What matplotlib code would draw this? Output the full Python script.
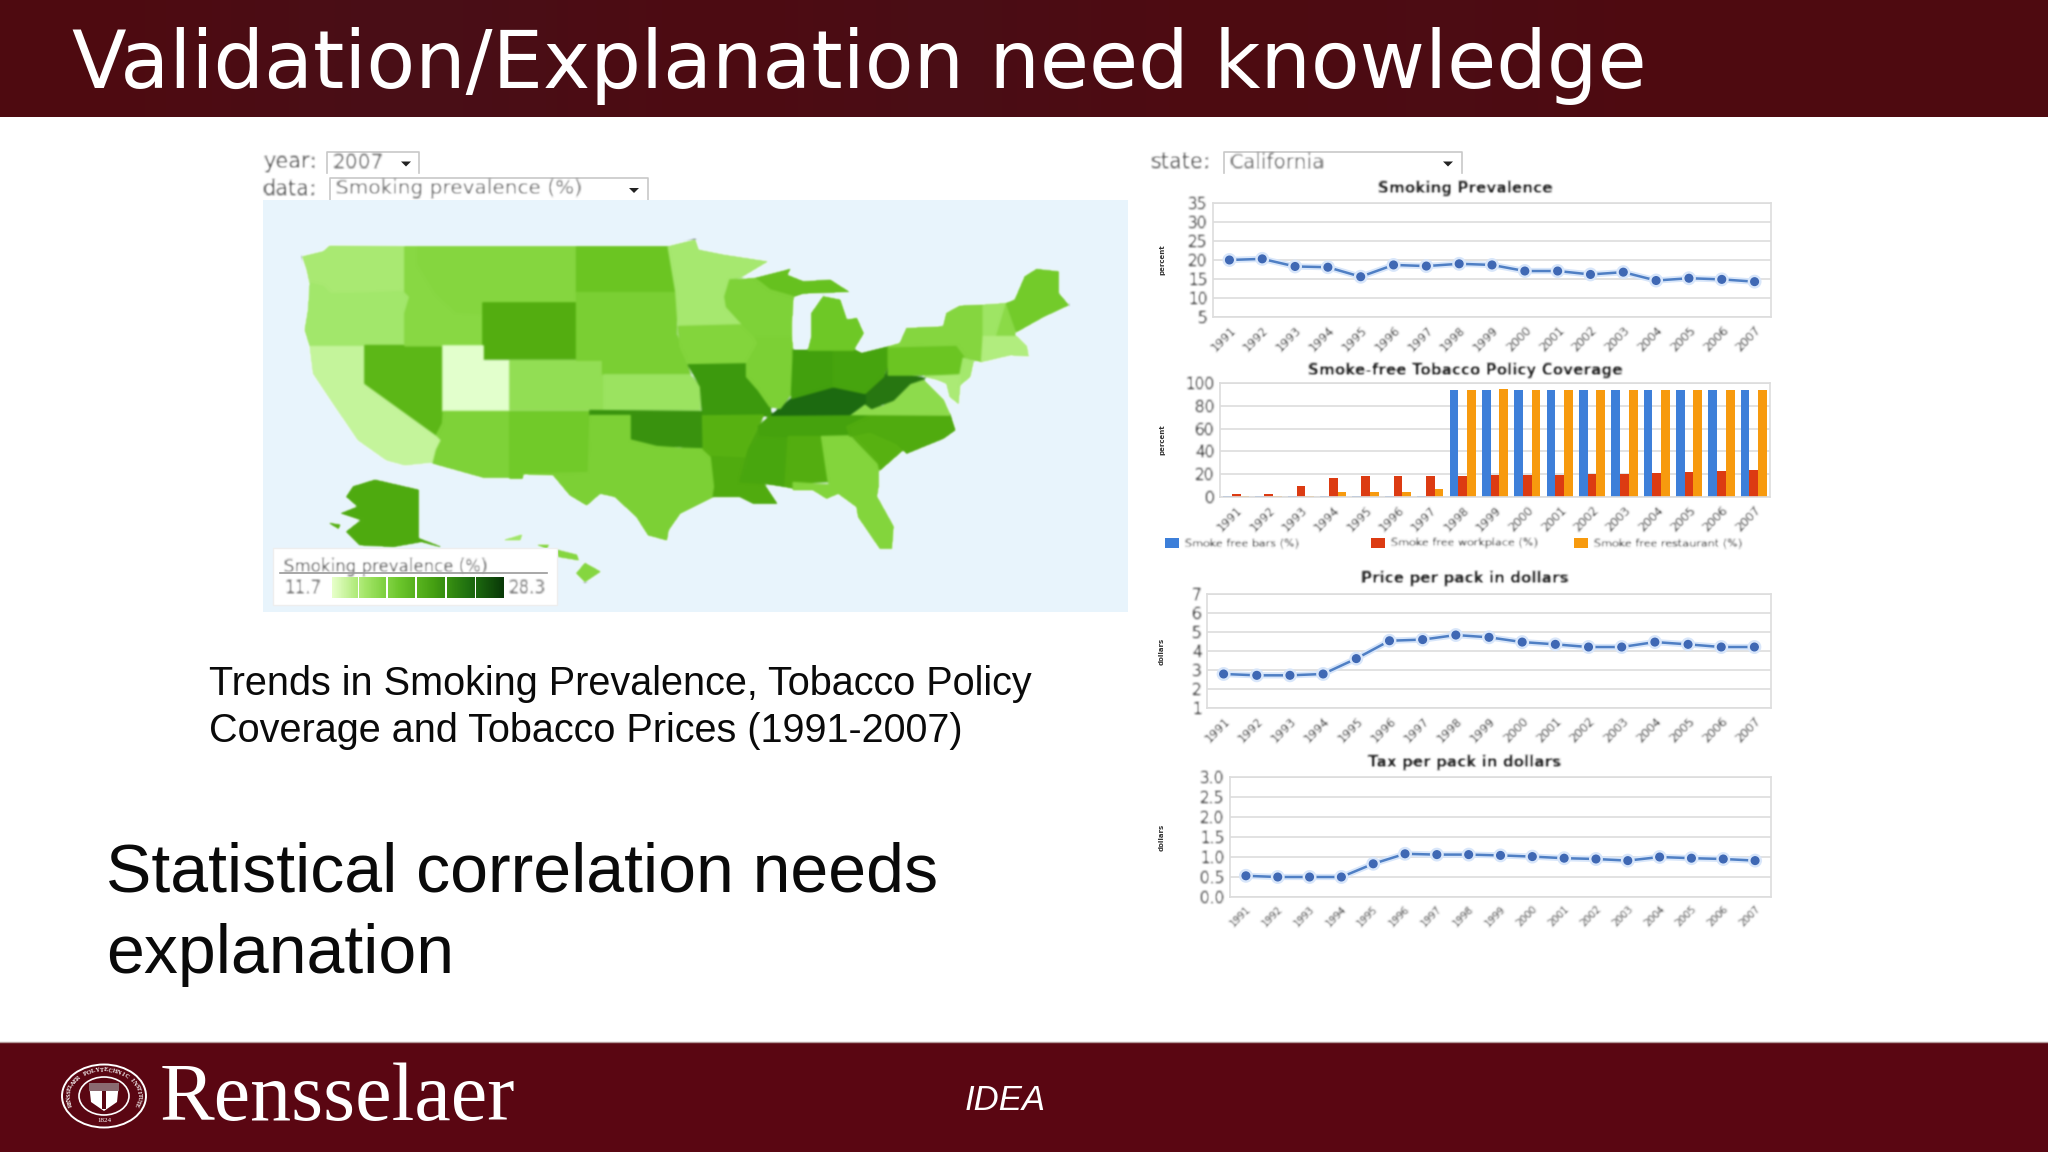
import numpy as np
import matplotlib
matplotlib.use("Agg")
import matplotlib.pyplot as plt
import matplotlib.patheffects as pe
from matplotlib.colors import LinearSegmentedColormap, Normalize
from matplotlib.collections import PatchCollection
from matplotlib.patches import Rectangle, Polygon, Ellipse

W, H = 2048, 1152

# --- chart data ---
years = ["1991", "1992", "1993", "1994", "1995", "1996", "1997", "1998", "1999",
         "2000", "2001", "2002", "2003", "2004", "2005", "2006", "2007"]
prevalence = [20.0, 20.3, 18.3, 18.1, 15.6, 18.7, 18.4, 19.0, 18.7,
              17.1, 17.1, 16.2, 16.8, 14.6, 15.2, 14.9, 14.3]
bars_pct = [0.5, 0.5, 0.5, 0.5, 0.5, 0.5, 0.5, 94, 94, 94, 94, 94, 94, 94, 94, 94, 94]
workplace_pct = [3, 3, 10, 17, 18, 18, 18, 18, 19, 19, 19, 20, 20, 21, 22, 23, 24]
restaurant_pct = [0.5, 1, 1, 4, 4, 4, 7, 94, 95, 94, 94, 94, 94, 94, 94, 94, 94]
price = [2.79, 2.72, 2.72, 2.79, 3.6, 4.54, 4.6, 4.84, 4.72,
         4.47, 4.35, 4.21, 4.21, 4.47, 4.35, 4.21, 4.21]
tax = [0.53, 0.50, 0.50, 0.50, 0.83, 1.08, 1.06, 1.06, 1.04,
       1.01, 0.97, 0.95, 0.91, 1.00, 0.97, 0.95, 0.91]

# state prevalence (estimated from shade) and outlines traced in map units
state_values = {
    "WA": 15.2, "OR": 15.8, "CA": 13.2, "NV": 21.4, "ID": 17.8, "MT": 18.0, "WY": 22.2,
    "UT": 11.7, "CO": 17.0, "AZ": 18.6, "NM": 19.8, "ND": 20.2, "SD": 19.0, "NE": 19.0,
    "KS": 16.4, "OK": 24.6, "TX": 18.8, "MN": 15.4, "IA": 18.2, "MO": 24.2, "AR": 21.8,
    "LA": 22.4, "WI": 18.6, "IL": 18.8, "MI": 20.0, "MIU": 20.6, "IN": 23.6, "OH": 23.2,
    "KY": 28.3, "WV": 27.0, "TN": 23.4, "MS": 23.0, "AL": 22.2, "GA": 18.2, "FL": 18.2,
    "SC": 21.8, "NC": 22.4, "VA": 17.4, "MD": 15.0, "PA": 20.2, "NY": 18.0, "NJ": 15.6,
    "CT": 14.2, "VT": 16.2, "NH": 17.6, "ME": 19.6, "AK": 22.6,
    "HI1": 18.0, "HI2": 18.0, "HI3": 18.0, "HI4": 16.0, "AK2": 22.0,
}
state_outlines = {
    "WA": [(38, 80), (100, 65), (120, 48), (345, 50), (345, 185), (230, 190), (120, 192), (100, 170), (60, 160), (50, 115)],
    "OR": [(60, 160), (100, 170), (120, 192), (230, 190), (345, 185), (360, 200), (345, 250), (345, 347), (60, 347), (45, 300), (55, 240)],
    "CA": [(60, 350), (225, 350), (225, 455), (455, 630), (440, 695), (345, 705), (290, 690), (205, 630), (130, 520), (70, 430)],
    "NV": [(225, 347), (458, 347), (458, 580), (440, 615), (225, 460)],
    "ID": [(345, 50), (385, 50), (385, 100), (440, 190), (500, 245), (578, 250), (578, 347), (345, 347), (345, 250), (360, 200), (345, 185)],
    "MT": [(385, 50), (860, 50), (860, 218), (578, 218), (578, 250), (500, 245), (440, 190), (385, 100)],
    "WY": [(578, 220), (860, 220), (860, 388), (578, 388)],
    "UT": [(460, 348), (578, 348), (578, 392), (660, 392), (660, 542), (460, 542)],
    "CO": [(660, 392), (938, 392), (942, 540), (660, 540)],
    "AZ": [(440, 615), (458, 580), (460, 545), (658, 545), (658, 742), (580, 742), (430, 700), (440, 660), (455, 630)],
    "NM": [(660, 545), (900, 545), (895, 728), (700, 730), (697, 745), (660, 745)],
    "ND": [(860, 50), (1135, 50), (1158, 186), (860, 186)],
    "SD": [(860, 188), (1158, 188), (1160, 310), (860, 300)],
    "NE": [(860, 300), (1155, 300), (1180, 370), (1200, 432), (938, 432), (938, 390), (860, 390)],
    "KS": [(942, 435), (1200, 435), (1230, 470), (1230, 540), (942, 540)],
    "OK": [(900, 542), (1238, 545), (1238, 660), (1170, 650), (1100, 650), (1020, 630), (1020, 557), (900, 557)],
    "TX": [(900, 557), (1020, 557), (1020, 630), (1100, 650), (1170, 655), (1240, 657), (1265, 680), (1275, 770), (1270, 800), (1170, 850),
           (1135, 900), (1130, 930), (1075, 915), (1040, 860), (975, 800), (930, 790), (890, 825), (840, 795), (790, 735), (700, 732), (895, 728)],
    "MN": [(1135, 50), (1215, 30), (1225, 60), (1300, 75), (1430, 95), (1355, 140), (1320, 150), (1305, 200), (1310, 230), (1360, 285), (1165, 290), (1158, 186)],
    "IA": [(1165, 290), (1360, 285), (1395, 320), (1405, 340), (1370, 402), (1195, 405), (1170, 350)],
    "MO": [(1195, 405), (1370, 402), (1370, 440), (1405, 480), (1440, 530), (1445, 558), (1238, 560), (1232, 470)],
    "AR": [(1238, 558), (1420, 556), (1375, 660), (1365, 690), (1265, 680), (1240, 657)],
    "LA": [(1265, 680), (1365, 685), (1350, 755), (1420, 760), (1460, 820), (1390, 820), (1350, 800), (1270, 800), (1275, 770)],
    "MS": [(1410, 590), (1495, 620), (1485, 770), (1420, 760), (1350, 755), (1375, 660)],
    "TN": [(1445, 553), (1745, 553), (1670, 590), (1680, 618), (1595, 620), (1495, 620), (1410, 615), (1405, 590)],
    "AL": [(1495, 620), (1595, 620), (1615, 755), (1515, 758), (1510, 775), (1485, 770)],
    "GA": [(1595, 620), (1680, 618), (1765, 700), (1765, 770), (1620, 765), (1615, 755)],
    "FL": [(1510, 758), (1620, 765), (1765, 770), (1760, 800), (1810, 890), (1805, 955), (1770, 955), (1705, 860), (1700, 830), (1645, 790), (1610, 805), (1570, 780), (1510, 780)],
    "SC": [(1680, 612), (1740, 605), (1850, 650), (1770, 720), (1765, 700)],
    "NC": [(1670, 590), (1745, 553), (1980, 553), (1995, 600), (1960, 625), (1850, 670), (1820, 640), (1740, 605), (1680, 618)],
    "VA": [(1680, 553), (1725, 520), (1780, 530), (1830, 470), (1900, 450), (1960, 510), (1980, 555)],
    "WV": [(1725, 490), (1790, 430), (1795, 400), (1797, 430), (1850, 435), (1905, 445), (1860, 460), (1810, 510), (1745, 535), (1725, 520)],
    "KY": [(1445, 555), (1505, 505), (1630, 470), (1725, 490), (1725, 520), (1680, 553)],
    "IL": [(1395, 320), (1505, 320), (1510, 380), (1505, 490), (1470, 535), (1440, 530), (1405, 480), (1370, 440), (1370, 402), (1405, 340)],
    "IN": [(1510, 360), (1630, 360), (1630, 470), (1505, 505), (1505, 490), (1510, 380)],
    "OH": [(1630, 360), (1695, 360), (1715, 370), (1795, 350), (1795, 400), (1780, 440), (1725, 490), (1630, 470)],
    "MI": [(1565, 250), (1600, 200), (1650, 210), (1670, 270), (1700, 265), (1720, 310), (1690, 360), (1555, 360), (1565, 320)],
    "MIU": [(1395, 145), (1500, 118), (1490, 135), (1540, 155), (1620, 150), (1675, 185), (1540, 190), (1510, 200), (1440, 180)],
    "WI": [(1305, 200), (1320, 150), (1395, 145), (1440, 180), (1510, 200), (1505, 280), (1505, 320), (1395, 320), (1360, 285), (1310, 230)],
    "PA": [(1795, 350), (2000, 345), (2030, 385), (2010, 435), (1795, 435)],
    "NY": [(1850, 295), (1960, 290), (1970, 250), (2010, 228), (2080, 225), (2080, 320), (2075, 395), (2030, 385), (2000, 345), (1795, 350), (1830, 340)],
    "VT": [(2080, 225), (2150, 220), (2120, 320), (2080, 320)],
    "NH": [(2150, 220), (2175, 290), (2175, 320), (2120, 320)],
    "ME": [(2150, 220), (2175, 210), (2205, 140), (2240, 118), (2305, 125), (2305, 190), (2335, 225), (2260, 260), (2180, 305), (2175, 290)],
    "CT": [(2080, 320), (2180, 320), (2210, 350), (2215, 378), (2160, 375), (2075, 395)],
    "NJ": [(2020, 385), (2050, 395), (2040, 440), (2010, 465), (2010, 435)],
    "MD": [(1905, 440), (2010, 435), (2010, 465), (2005, 520), (1980, 500), (1970, 460), (1940, 448)],
    "AK": [(170, 800), (190, 770), (255, 750), (385, 780), (385, 925), (450, 950), (395, 935), (310, 950), (210, 945), (170, 905), (215, 870), (155, 850), (205, 830)],
    "AK2": [(120, 880), (150, 885), (145, 895)],
    "HI1": [(860, 1030), (885, 1000), (930, 1025), (885, 1055)],
    "HI2": [(800, 960), (860, 975), (865, 990), (805, 980)],
    "HI3": [(745, 945), (775, 945), (770, 955)],
    "HI4": [(645, 930), (695, 915), (690, 930)],
}
legend_min = 11.7
legend_max = 28.3

shade_map = LinearSegmentedColormap.from_list("shade", [
    (0.0, "#e2ffcc"), (0.14, "#b4ee80"), (0.26, "#a0e668"), (0.38, "#85d63f"), (0.50, "#6ec826"),
    (0.62, "#55b010"), (0.74, "#3e9c0c"), (0.86, "#2f8012"), (1.0, "#1c6a10")])
legend_map = LinearSegmentedColormap.from_list("legend", ["#e6ffc8", "#a4e668", "#6cc62c", "#45a012", "#1f7010", "#0a3a08"])
norm = Normalize(legend_min, legend_max)

MAROON = "#5a0612"
GRID = "#dddddd"
TXT = "#1c1c1c"


# the source is a blurry video frame, so soften the small stuff
def soften(image, dpi):
    pad = 5
    out = np.pad(image, ((pad, pad), (pad, pad), (0, 0)))
    kernel = np.array([1, 4, 6, 4, 1]) / 16.0
    for axis in (0, 1):
        out = np.apply_along_axis(lambda m: np.convolve(m, kernel, mode="same"), axis, out)
    return out, -pad, -pad


fig = plt.figure(figsize=(W / 100, H / 100), dpi=100, facecolor="white")


def px_axes(left, top, right, bottom):
    return fig.add_axes([left / W, 1 - bottom / H, (right - left) / W, (bottom - top) / H])


# --- slide layer in pixels ---
bg = fig.add_axes([0, 0, 1, 1])
bg.axis("off")

header = np.array([[0.0, 0.5, 1.0, 0.45, 0.2, 0.85, 0.3, 0.1, 0.6, 0.0, 0.1, 0.1]])
header_map = LinearSegmentedColormap.from_list("hdr", ["#4f0a10", "#480f18"])
bg.imshow(header, extent=(0, W, 117, 0), aspect="auto", cmap=header_map, interpolation="bicubic")
bg.set_xlim(0, W)
bg.set_ylim(H, 0)
bg.add_patch(Rectangle((0, 1042), W, 110, color=MAROON, lw=0))
bg.plot([0, W], [1042, 1042], color="#b49a9a", lw=1)

bg.text(72, 66, "Validation/Explanation need knowledge", color="white", fontsize=57.5,
        family="DejaVu Sans", va="center", ha="left")
bg.text(209, 684, "Trends in Smoking Prevalence, Tobacco Policy", fontsize=28.5, family="Liberation Sans",
        color="#0a0a0a", va="center")
bg.text(209, 731, "Coverage and Tobacco Prices (1991-2007)", fontsize=28.5, family="Liberation Sans",
        color="#0a0a0a", va="center")
bg.text(106, 873, "Statistical correlation needs", fontsize=49, family="Liberation Sans", color="#0a0a0a", va="center")
bg.text(106, 955, "explanation", fontsize=49, family="Liberation Sans", color="#0a0a0a", va="center")

# footer logo and labels
bg.text(160, 1120, "Rensselaer", color="white", fontsize=59, family="Liberation Serif", va="baseline", ha="left")
bg.text(1005, 1101, "IDEA", color="white", fontsize=25, family="Liberation Sans", style="italic", ha="center", va="center")

cx, cy = 104, 1096
bg.add_patch(Ellipse((cx, cy), 84, 63, fc="none", ec="white", lw=1.4))
bg.add_patch(Ellipse((cx, cy), 50, 38, fc="none", ec="white", lw=1.2))
seal = "RENSSELAER POLYTECHNIC INSTITUTE"
for i, ch in enumerate(seal):
    ang = np.radians(200 - i * (220 / (len(seal) - 1)))
    bg.text(cx + 35 * np.cos(ang), cy - 26 * np.sin(ang), ch, color="white", fontsize=4.6, family="Liberation Serif",
            weight="bold", ha="center", va="center", rotation=np.degrees(ang) - 90)
bg.text(cx, cy + 24, "1824", color="white", fontsize=5, family="Liberation Serif", ha="center", va="center")
bg.add_patch(Polygon([(cx - 15, cy - 13), (cx + 15, cy - 13), (cx + 13, cy + 6), (cx, cy + 15), (cx - 13, cy + 6)],
                     fc="white", ec="none"))
bg.add_patch(Rectangle((cx - 15, cy - 13), 30, 8, fc="#8a6a70", ec="none"))
bg.add_patch(Rectangle((cx - 2, cy - 5), 4, 18, fc=MAROON, ec="none"))


def dropdown(label, label_x, box_x0, box_x1, y0, y1, value, arrow_x):
    mid = (y0 + y1) / 2
    t1 = bg.text(label_x, mid, label, fontsize=15, color="#555555", va="center", ha="left", family="DejaVu Sans")
    bg.plot([box_x0, box_x0, box_x1, box_x1], [y1, y0, y0, y1], color="#c8c8c8", lw=1.2)
    t2 = bg.text(box_x0 + 6, mid, value, fontsize=14.4, color="#666666", va="center", ha="left", family="DejaVu Sans")
    t1.set_agg_filter(soften)
    t2.set_agg_filter(soften)
    bg.add_patch(Polygon([(arrow_x - 5, mid - 1), (arrow_x + 5, mid - 1), (arrow_x, mid + 4)], color="#222222", lw=0))


dropdown("year:", 263, 327, 419, 152, 173, "2007", 406)
dropdown("data:", 263, 330, 648, 178, 200, "Smoking prevalence (%)", 634)
dropdown("state:", 1151, 1224, 1462, 152, 173, "California", 1448)

# --- map ---
map_ax = px_axes(263, 200, 1128, 612)
map_ax.set_facecolor("#e8f4fc")
map_ax.set_xticks([])
map_ax.set_yticks([])
for spine in map_ax.spines.values():
    spine.set_visible(False)
state_patches = [Polygon(outline, closed=True) for outline in state_outlines.values()]
state_colours = [shade_map(norm(state_values[name])) for name in state_outlines]
states = PatchCollection(state_patches, facecolors=state_colours, edgecolors=state_colours, linewidths=1.2)
states.set_agg_filter(soften)
map_ax.add_collection(states)

map_ax.add_patch(Rectangle((-51, 955), 851, 170, fc="white", ec="#eeeeee", lw=1, zorder=2))
map_ax.text(-18, 1010, "Smoking prevalence (%)", fontsize=12, color="#555555", va="center", family="DejaVu Sans",
            zorder=3).set_agg_filter(soften)
map_ax.plot([-30, 770], [1030, 1030], color="#999999", lw=1.2, zorder=3)
map_ax.text(-18, 1075, str(legend_min), fontsize=12, color="#666666", va="center", family="DejaVu Sans",
            zorder=3).set_agg_filter(soften)
map_ax.text(655, 1075, str(legend_max), fontsize=12, color="#666666", va="center", family="DejaVu Sans",
            zorder=3).set_agg_filter(soften)
levels = np.linspace(0, 1, 61).reshape(1, -1)
swatch_edges = [(125, 201), (208, 288), (295, 375), (382, 465), (470, 552), (558, 640)]
for k, (x0, x1) in enumerate(swatch_edges):
    part = levels[:, k * 10:(k + 1) * 10 + 1]
    map_ax.imshow(part, extent=(x0, x1, 1103, 1042), aspect="auto", cmap=legend_map, vmin=0, vmax=1, zorder=3)
map_ax.set_xlim((263 - 290) * 3, (1128 - 290) * 3)
map_ax.set_ylim((612 - 230) * 3, (200 - 230) * 3)


# --- small charts ---
def style_chart(ax, title, title_y, yticks, ylabels, ylabel, tick_size=8.5):
    positions = np.arange(len(years))
    ax.set_xlim(-0.5, len(years) - 0.5)
    ax.set_yticks(yticks)
    ax.set_yticklabels(ylabels, fontsize=11, color="#2c2c2c")
    ax.set_xticks(positions)
    ax.set_xticklabels(years, rotation=45, ha="right", rotation_mode="anchor", fontsize=tick_size, color=TXT)
    ax.tick_params(length=0, pad=4)
    ax.tick_params(axis="x", pad=5)
    ax.grid(axis="y", color=GRID, lw=1.2)
    ax.set_axisbelow(True)
    for spine in ax.spines.values():
        spine.set_color(GRID)
        spine.set_linewidth(1.2)
    for tick_text in ax.get_xticklabels() + ax.get_yticklabels():
        tick_text.set_agg_filter(soften)
    bg.text(1465, title_y, title, fontsize=11, weight="bold", color="#1c1c1c", ha="center",
            va="center").set_agg_filter(soften)
    bbox = ax.get_position()
    bg.text(1162, (1 - (bbox.y0 + bbox.height / 2)) * H, ylabel, fontsize=5, weight="bold", color="#333333",
            rotation=90, ha="center", va="center")


def line_chart(ax, values):
    ax.plot(np.arange(len(years)), values, color="#4f7fc4", lw=1.8, marker="o", ms=5.5, mfc="#3f68b4", mec="#3f68b4",
            path_effects=[pe.Stroke(linewidth=4.5, foreground="#d8e6fa"), pe.Normal()])


ax1 = px_axes(1213, 203, 1771, 317)
line_chart(ax1, prevalence)
ax1.set_ylim(5, 35)
style_chart(ax1, "Smoking Prevalence", 188, [5, 10, 15, 20, 25, 30, 35],
            ["5", "10", "15", "20", "25", "30", "35"], "percent")

ax2 = px_axes(1220, 383, 1770, 497)
positions = np.arange(len(years))
bar_w = 0.27
ax2.bar(positions - bar_w, bars_pct, bar_w, color="#3d7fd9", label="Smoke free bars (%)")
ax2.bar(positions, workplace_pct, bar_w, color="#dc3b12", label="Smoke free workplace (%)")
ax2.bar(positions + bar_w, restaurant_pct, bar_w, color="#f79a0e", label="Smoke free restaurant (%)")
ax2.set_ylim(0, 100)
style_chart(ax2, "Smoke-free Tobacco Policy Coverage", 371, [0, 20, 40, 60, 80, 100],
            ["0", "20", "40", "60", "80", "100"], "percent")

legend_x = [1165, 1371, 1574]
legend_labels = ["Smoke free bars (%)", "Smoke free workplace (%)", "Smoke free restaurant (%)"]
legend_cols = ["#3d7fd9", "#dc3b12", "#f79a0e"]
for lx, ll, lc in zip(legend_x, legend_labels, legend_cols):
    bg.add_patch(Rectangle((lx, 538), 14, 10, color=lc, lw=0))
    bg.text(lx + 20, 543, ll, fontsize=8, color=TXT, va="center", ha="left").set_agg_filter(soften)

ax3 = px_axes(1207, 594, 1771, 708)
line_chart(ax3, price)
ax3.set_ylim(1, 7)
style_chart(ax3, "Price per pack in dollars", 579, [1, 2, 3, 4, 5, 6, 7],
            ["1", "2", "3", "4", "5", "6", "7"], "dollars")

ax4 = px_axes(1230, 777, 1771, 897)
line_chart(ax4, tax)
ax4.set_ylim(0, 3)
style_chart(ax4, "Tax per pack in dollars", 762, [0, 0.5, 1, 1.5, 2, 2.5, 3],
            ["0.0", "0.5", "1.0", "1.5", "2.0", "2.5", "3.0"], "dollars", tick_size=7)

fig.savefig("out.png", dpi=100, facecolor="white")
